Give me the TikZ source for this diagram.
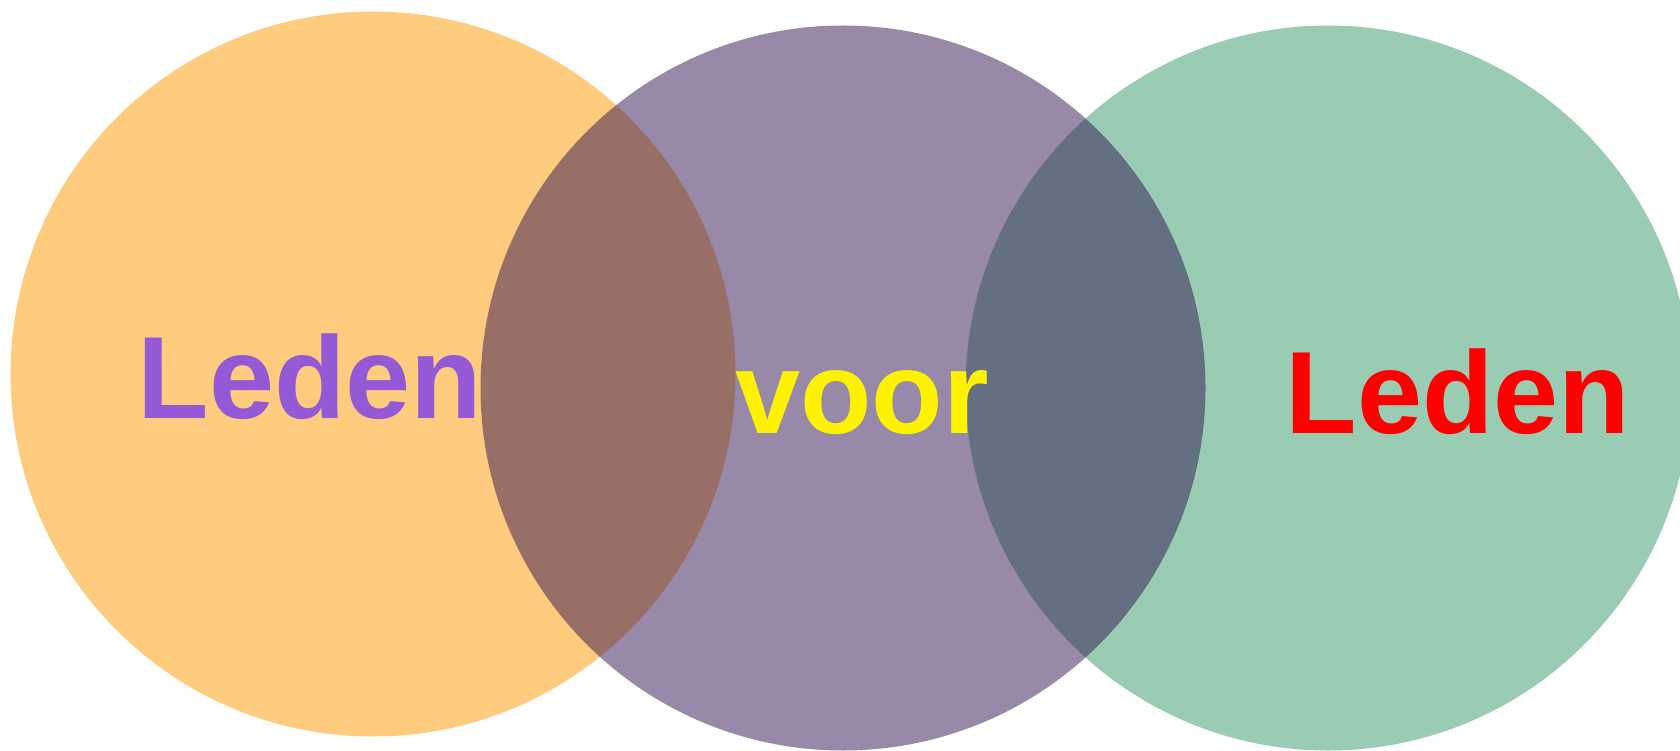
\documentclass[tikz,border=0pt]{standalone}
\usepackage{fontspec}
\setmainfont{Liberation Sans}
\definecolor{vennorange}{RGB}{255,153,0}
\definecolor{venngreen}{RGB}{51,153,102}
\definecolor{vennpurple}{RGB}{48,20,80}
\definecolor{labelpurple}{RGB}{148,90,214}

\begin{document}
\begin{tikzpicture}[x=1pt,y=-1pt,
  venn/.style={fill opacity=0.5},
  word/.style={font=\fontsize{117}{117}\selectfont\bfseries,anchor=base,inner sep=0pt}]
\useasboundingbox (0,0) rectangle (1680,751);
\fill[venn,vennorange] (373,374) circle[radius=362.5];
\fill[venn,venngreen] (1328,388) circle[radius=362.5];
\fill[venn,vennpurple] (843,388) circle[radius=362.5];
\node[word,labelpurple] (links) at (310,418) {Leden};
\node[word,yellow] (midden) at (862,433) {voor};
\node[word,red] (rechts) at (1458,433) {Leden};
\end{tikzpicture}
\end{document}
